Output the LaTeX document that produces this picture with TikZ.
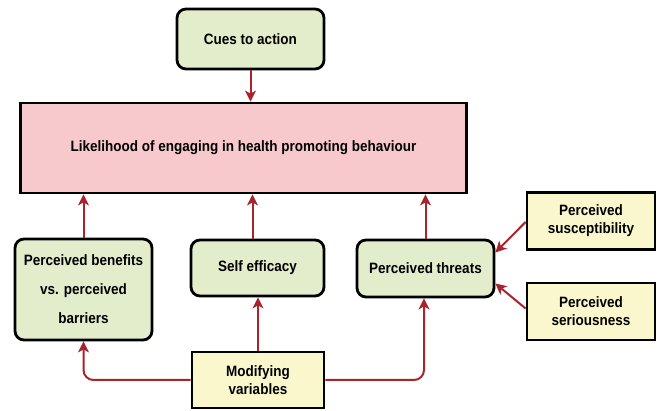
\documentclass[tikz,border=0pt]{standalone}
\usepackage{fontspec}
\setmainfont{Liberation Sans}[FakeStretch=0.9]
\usetikzlibrary{arrows.meta,calc}
\definecolor{boxgreen}{HTML}{E3EDCC}
\definecolor{boxyellow}{HTML}{FBF7CC}
\definecolor{boxpink}{HTML}{F7C9CC}
\definecolor{arrred}{HTML}{A8232B}
\tikzset{
  base/.style={draw=black, line width=2.8pt, align=center, font=\bfseries\fontsize{15}{18}\selectfont, inner sep=2pt},
  greenbox/.style={base, fill=boxgreen, rounded corners=9pt},
  yellowbox/.style={base, fill=boxyellow},
  pinkbox/.style={base, fill=boxpink},
  arr/.style={draw=arrred, line width=2pt, -{Stealth[length=11pt,width=11pt,inset=3pt]}},
}
\begin{document}
\begin{tikzpicture}[x=1pt,y=-1pt]
\useasboundingbox (0,0) rectangle (657,411);
\node[greenbox, minimum width=147pt, minimum height=60pt] (cues) at (250.5,39) {Cues to action};
\node[pinkbox, minimum width=446pt, minimum height=90pt] (like) at (243.5,148) {Likelihood of engaging in health promoting behaviour};
\node[greenbox, minimum width=137pt, minimum height=101pt, font=\bfseries\fontsize{15}{29}\selectfont] (ben) at (83.5,289.5) {Perceived benefits\\vs. perceived\\barriers};
\node[greenbox, minimum width=133pt, minimum height=56pt] (self) at (257.5,268) {Self efficacy};
\node[greenbox, minimum width=137pt, minimum height=57pt] (thr) at (425.5,268.5) {Perceived threats};
\node[yellowbox, minimum width=128pt, minimum height=57pt] (sus) at (591,221) {Perceived\\susceptibility};
\node[yellowbox, minimum width=128pt, minimum height=57pt] (ser) at (591,311.5) {Perceived\\seriousness};
\node[yellowbox, minimum width=132pt, minimum height=56pt] (mod) at (258,380) {Modifying\\variables};
\coordinate (thrA) at ($(thr.east)+(0,-16)$);
\coordinate (thrB) at ($(thr.east)+(0,15)$);
\draw[arr] (cues.south) -- (cues.south |- like.north);
\draw[arr] (ben.north) -- (ben.north |- like.south);
\draw[arr] ($(self.north)+(-5,0)$) -- ($(self.north |- like.south)+(-5,0)$);
\draw[arr] (thr.north) -- (thr.north |- like.south);
\draw[arr] (mod.north) -- (mod.north |- self.south);
\draw[arr, rounded corners=10pt] (mod.west) -| (ben.south);
\draw[arr, rounded corners=10pt] (mod.east) -| ($(thr.south)+(-1.5,0)$);
\draw[arr] ($(sus.west)+(0,1)$) -- (thrA);
\draw[arr] ($(ser.west)+(0,-3)$) -- (thrB);
\end{tikzpicture}
\end{document}
